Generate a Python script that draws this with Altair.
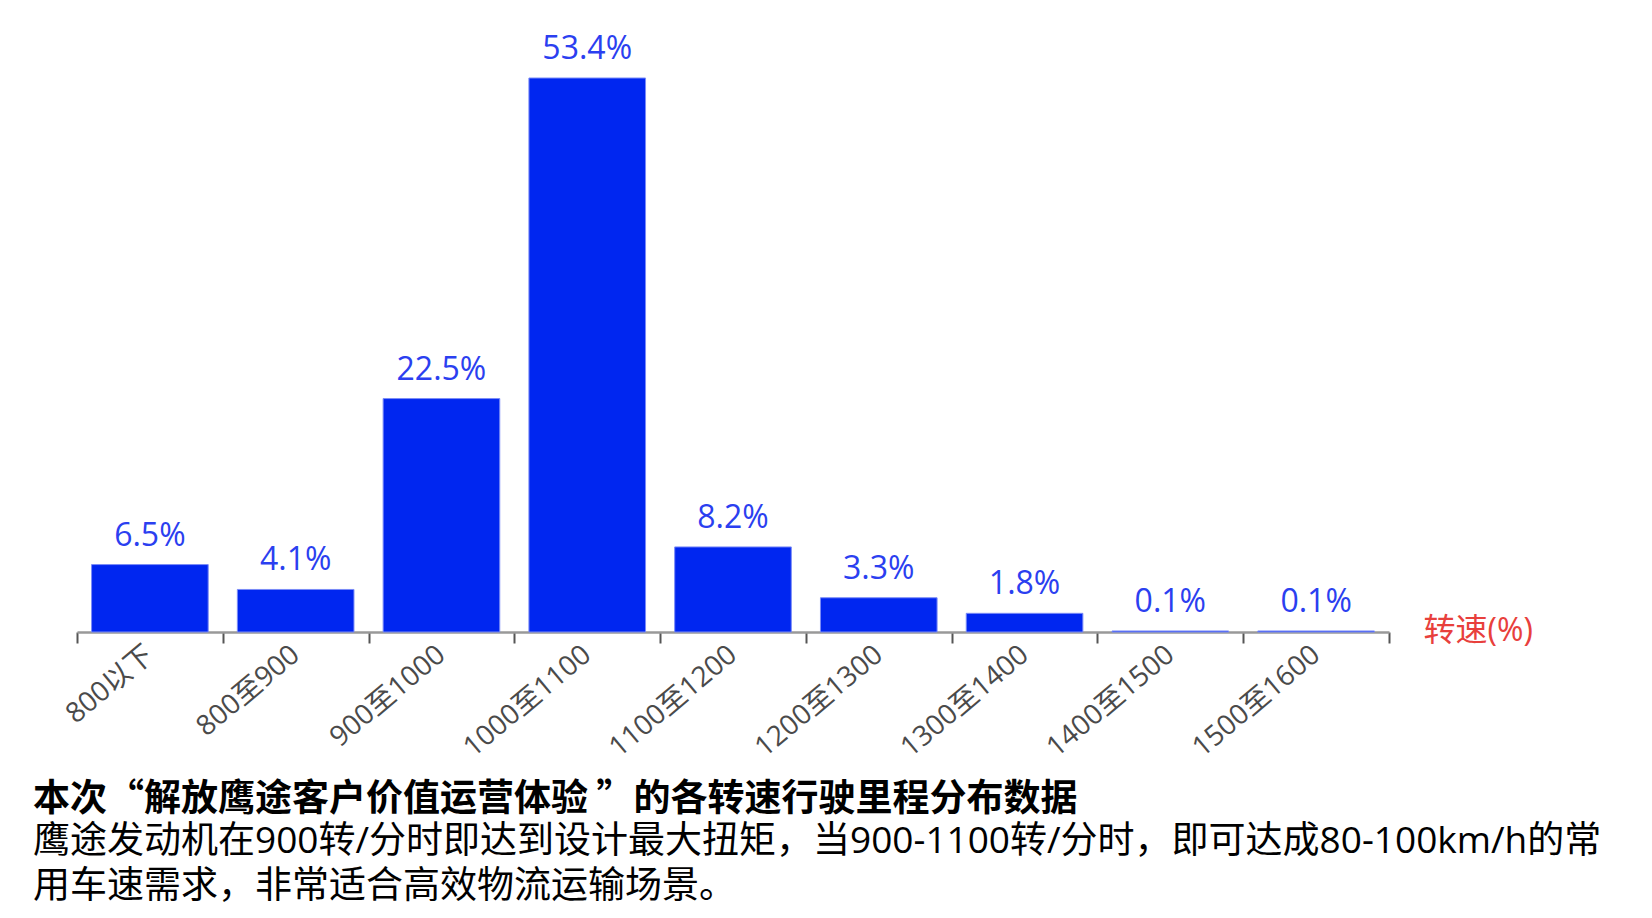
import altair as alt
import pandas as pd

categories = ["800以下", "800至900", "900至1000", "1000至1100", "1100至1200",
              "1200至1300", "1300至1400", "1400至1500", "1500至1600"]
values = [6.5, 4.1, 22.5, 53.4, 8.2, 3.3, 1.8, 0.1, 0.1]

title_text = "本次“解放鹰途客户价值运营体验 ”的各转速行驶里程分布数据"
subtitle_lines = [
    "鹰途发动机在900转/分时即达到设计最大扭矩，当900-1100转/分时，即可达成80-100km/h的常",
    "用车速需求，非常适合高效物流运输场景。",
]
axis_title = "转速(%)"

df = pd.DataFrame({"cat": categories, "v": values})

FONT = "Open Sans, Noto Sans CJK SC"

base = alt.Chart(df).transform_calculate(
    label="format(datum.v, '.1f') + '%'"
).encode(
    x=alt.X(
        "cat:N",
        sort=categories,
        scale=alt.Scale(paddingInner=0, paddingOuter=0),
        axis=alt.Axis(
            title=axis_title,
            titleX=1346,
            titleY=-2,
            titleAlign="left",
            titleBaseline="middle",
            titleAngle=0,
            titleFontSize=32,
            titleFontWeight="normal",
            titleColor="#e8403c",
            titleFont=FONT,
            labelAngle=-40,
            labelAlign="right",
            labelBaseline="middle",
            labelFontSize=28,
            labelColor="#4a4a4a",
            labelFont=FONT,
            labelPadding=8,
            tickBand="extent",
            tickSize=11,
            tickColor="#555555",
            tickWidth=2,
            domainColor="#999999",
            domainWidth=2.5,
            grid=False,
        ),
    ),
    y=alt.Y("v:Q", scale=alt.Scale(domain=[0, max(values)], nice=False), axis=None),
)

bars = base.mark_bar(
    color="#0026f0", stroke="#7b8cf7", strokeWidth=1,
    width=alt.RelativeBandSize(0.8),
)
labels = base.mark_text(
    dy=-19, baseline="alphabetic", fontSize=32, color="#2b3ff0", font=FONT
).encode(text="label:N")

chart = alt.layer(bars, labels).properties(
    width=1312,
    height=554,
    padding={"left": 69, "top": 70, "right": 240, "bottom": 278},
    autosize=alt.AutoSizeParams(type="none"),
    title=alt.TitleParams(
        text=title_text,
        subtitle=subtitle_lines,
        orient="bottom",
        anchor="start",
        frame="group",
        dx=-44,
        offset=20,
        font="Noto Sans CJK SC",
        fontSize=37,
        fontWeight="bold",
        color="#000000",
        subtitleFont=FONT,
        subtitleFontSize=37,
        subtitleColor="#000000",
        subtitlePadding=5,
        subtitleLineHeight=45,
    ),
).configure_view(stroke=None)

chart.save("out.html", embed_options={"renderer": "svg", "actions": False})
